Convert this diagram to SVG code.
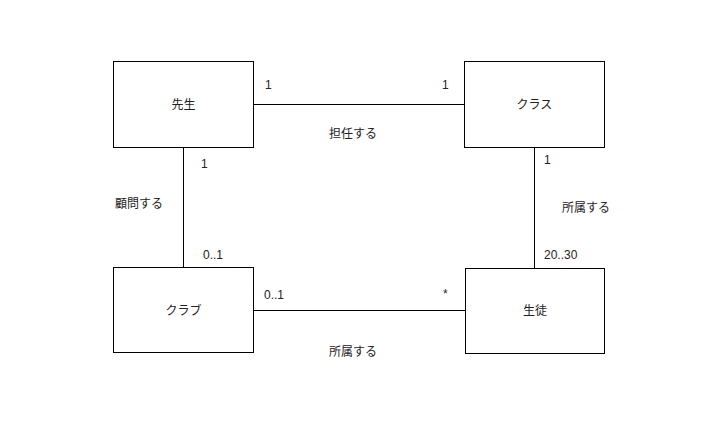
<svg xmlns="http://www.w3.org/2000/svg" width="726" height="426" viewBox="0 0 726 426">
<style>
.box{fill:#fff;stroke:#000;stroke-width:1}
.ln{stroke:#000;stroke-width:1;fill:none}
text{font-family:"Liberation Sans","Noto Sans CJK JP",sans-serif;font-size:12px;fill:#222}
.c{text-anchor:middle}
</style>
<rect width="726" height="426" fill="#fff"/>
<g id="connectors">
<path class="ln" d="M253.5 104.5H464.5"/>
<path class="ln" d="M183.5 147.5V267.5"/>
<path class="ln" d="M534.5 147.5V268.5"/>
<path class="ln" d="M253.5 310.5H465.5"/>
<text x="265" y="89">1</text>
<text x="442" y="89">1</text>
<text class="c" x="353" y="138">担任する</text>
<text x="201" y="168">1</text>
<text x="115" y="208">顧問する</text>
<text x="203" y="259">0..1</text>
<text x="544" y="164">1</text>
<text x="562" y="212">所属する</text>
<text x="544" y="259">20..30</text>
<text x="264" y="299">0..1</text>
<text x="443" y="298">*</text>
<text class="c" x="353" y="356">所属する</text>
</g>
<g id="sensei"><rect class="box" x="113.5" y="61.5" width="140" height="86"/><text class="c" x="183.5" y="108.5">先生</text></g>
<g id="class"><rect class="box" x="464.5" y="61.5" width="140" height="86"/><text class="c" x="534.5" y="108.5">クラス</text></g>
<g id="club"><rect class="box" x="113.5" y="267.5" width="140" height="85"/><text class="c" x="183.5" y="315">クラブ</text></g>
<g id="seito"><rect class="box" x="465.5" y="268.5" width="139" height="85"/><text class="c" x="535" y="315">生徒</text></g>
</svg>
